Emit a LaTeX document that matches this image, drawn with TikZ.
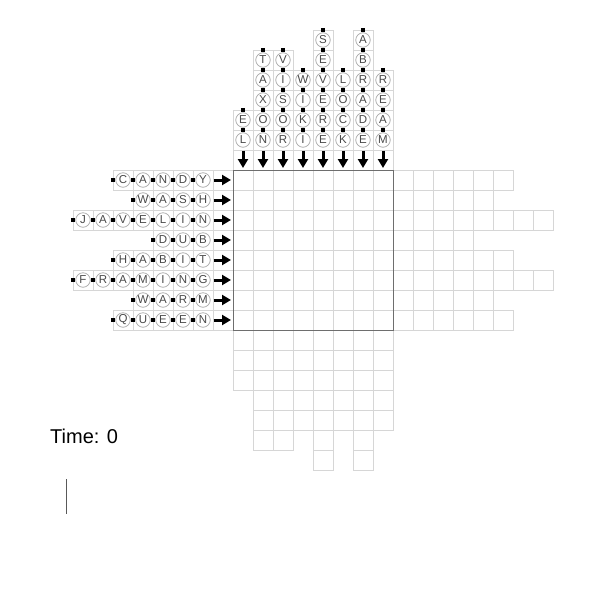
\documentclass[tikz,border=0pt]{standalone}
\usepackage{fontspec}
\setmainfont{Liberation Sans}
\usetikzlibrary{arrows.meta}
\definecolor{gridc}{HTML}{D6D6D6}
\definecolor{circc}{HTML}{A8A8A8}
\definecolor{letc}{HTML}{484848}
\definecolor{boxc}{HTML}{6E6E6E}
\tikzset{
  letter/.style={circle, draw=circc, fill=white, line width=0.7pt, minimum size=14.5pt, inner sep=0pt, text=letc, font=\fontsize{11.5}{11.5}\selectfont},
  link/.style={draw=black, line width=0.9pt},
  knot/.style={rectangle, fill=black, minimum size=3.2pt, inner sep=0pt},
  cell/.style={draw=gridc, line width=0.6pt},
  pointer/.style={line width=3pt, -{Triangle[length=9pt,width=10pt]}},
}
\begin{document}
\begin{tikzpicture}[x=1pt,y=-1pt]
\useasboundingbox (0,0) rectangle (600,600);

% main grid cells
\foreach \a in {0,...,7}{
  \foreach \b in {0,...,7}{
    \draw[cell] ({233+20*\a},{170+20*\b}) rectangle ++(20,20);
  }
}

% column words
\foreach \n/\w [count=\k from 0] in {2/{E,L},5/{T,A,X,O,N},5/{V,I,S,O,R},4/{W,I,K,I},6/{S,E,V,E,R,E},4/{L,O,C,K},6/{A,B,R,A,D,E},4/{R,E,A,M}}{
  \pgfmathsetmacro\xc{243+20*\k}
  \pgfmathsetmacro\yt{150-20*\n}
  \pgfmathtruncatemacro\nn{\n-1}
  \foreach \j in {0,...,\n}{
    \draw[cell] ({\xc-10},{\yt+20*\j}) rectangle ++(20,20);
    \draw[cell] ({\xc-10},{330+20*\j}) rectangle ++(20,20);
  }
  \foreach \ltr [count=\i from 0] in \w{
    \node[letter] (c\k-\i) at (\xc,{\yt+10+20*\i}) {\ltr};
  }
  \coordinate (cs\k) at (\xc,\yt);
  \draw[link] (cs\k) node[knot]{} -- (c\k-0);
  \foreach \i [evaluate=\i as \p using int(\i-1)] in {1,...,\nn}{
    \draw[link] (c\k-\p) -- node[knot]{} (c\k-\i);
  }
  \coordinate (ce\k) at (\xc,168);
  \draw[pointer, shorten <=3pt] (c\k-\nn) -- (ce\k);
}

% row words
\foreach \n/\w [count=\r from 0] in {5/{C,A,N,D,Y},4/{W,A,S,H},7/{J,A,V,E,L,I,N},3/{D,U,B},5/{H,A,B,I,T},7/{F,R,A,M,I,N,G},4/{W,A,R,M},5/{Q,U,E,E,N}}{
  \pgfmathsetmacro\yc{180+20*\r}
  \pgfmathsetmacro\xl{213-20*\n}
  \pgfmathtruncatemacro\nn{\n-1}
  \foreach \j in {0,...,\n}{
    \draw[cell] ({\xl+20*\j},{\yc-10}) rectangle ++(20,20);
    \draw[cell] ({393+20*\j},{\yc-10}) rectangle ++(20,20);
  }
  \foreach \ltr [count=\i from 0] in \w{
    \node[letter] (r\r-\i) at ({\xl+10+20*\i},\yc) {\ltr};
  }
  \coordinate (rs\r) at (\xl,\yc);
  \draw[link] (rs\r) node[knot]{} -- (r\r-0);
  \foreach \i [evaluate=\i as \p using int(\i-1)] in {1,...,\nn}{
    \draw[link] (r\r-\p) -- node[knot]{} (r\r-\i);
  }
  \coordinate (re\r) at (231,\yc);
  \draw[pointer, shorten <=3pt] (r\r-\nn) -- (re\r);
}

% main box border
\draw[boxc, line width=1pt] (233,170) rectangle (393,330);

% timer
\node[anchor=base west, inner sep=0pt, font=\fontsize{20}{20}\selectfont] (time) at (50,443) {Time: 0};
\draw[black!65, line width=1pt] (66.5,479) -- (66.5,514);
\end{tikzpicture}
\end{document}
